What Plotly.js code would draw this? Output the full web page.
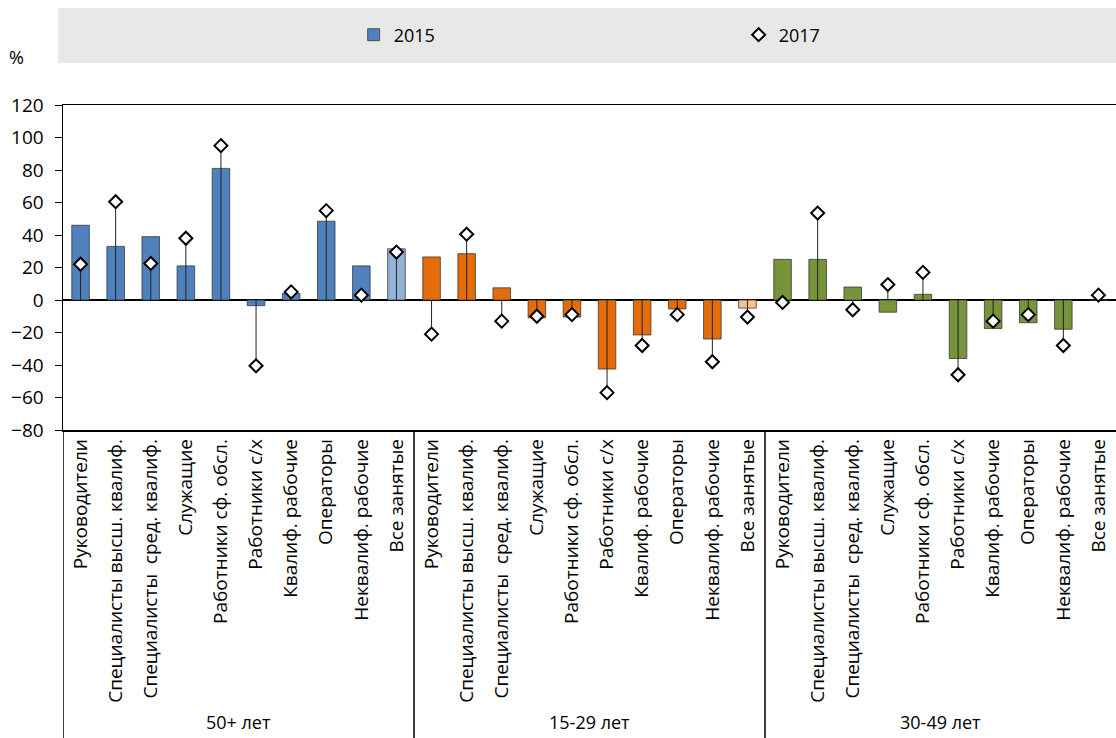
<!DOCTYPE html>
<html><head><meta charset="utf-8">
<script src="https://cdn.plot.ly/plotly-3.0.1.min.js"></script>
<style>body{margin:0;background:#fff;} #chart{width:1116px;height:738px;}</style>
</head><body><div id="chart"></div>
<script>
// ---- data ----
const groups = ['50+ лет', '15-29 лет', '30-49 лет'];
const occupations = ['Руководители', 'Специалисты высш. квалиф.', 'Специалисты  сред. квалиф.', 'Служащие',
  'Работники сф. обсл.', 'Работники с/х', 'Квалиф. рабочие', 'Операторы', 'Неквалиф. рабочие', 'Все занятые'];
const v2015_50 = [46, 33, 39, 21, 81, -3.5, 4, 48.5, 21, 31.5];
const v2017_50 = [22, 60.5, 22.5, 38, 95, -40.5, 5, 55, 3, 29.5];
const v2015_15 = [26.5, 28.5, 7.5, -11, -10.5, -42.5, -21.5, -5.5, -24, -5];
const v2017_15 = [-21, 40.5, -13, -10, -9, -57, -28, -9, -38, -10.5];
const v2015_30 = [25, 25, 8, -7.5, 3.5, -36, -17.5, -14, -18, 0];
const v2017_30 = [-1.5, 53.5, -6, 9.5, 17, -46, -13, -9, -28, 3];
const yTicks = [-80, -60, -40, -20, 0, 20, 40, 60, 80, 100, 120];

// ---- styles ----
const mainColors = ['#4f81bd', '#e46c0a', '#77933c'];
const totalColors = ['#95b3d7', '#fac090', '#9bbb59'];
const FONT = 'Open Sans, Liberation Sans, sans-serif';
const FS = 19;

const s2015 = [v2015_50, v2015_15, v2015_30];
const s2017 = [v2017_50, v2017_15, v2017_30];

const xs = [], y15 = [], y17 = [], colors = [], tickvals = [], ticktext = [];
const lx = [], ly = [];
groups.forEach((g, gi) => {
  occupations.forEach((o, oi) => {
    const x = gi * occupations.length + oi;
    xs.push(x); tickvals.push(x); ticktext.push(o);
    y15.push(s2015[gi][oi]); y17.push(s2017[gi][oi]);
    colors.push(oi === occupations.length - 1 ? totalColors[gi] : mainColors[gi]);
    lx.push(x, x, null); ly.push(0, s2017[gi][oi], null);
  });
});
const n = xs.length;

const traces = [
  {type: 'bar', x: xs, y: y15, name: '2015', width: 0.5,
   marker: {color: colors, line: {color: 'rgba(50,50,50,0.75)', width: 1}}},
  {type: 'scatter', mode: 'lines', x: lx, y: ly, showlegend: false, hoverinfo: 'skip',
   line: {color: '#222', width: 1}},
  {type: 'scatter', mode: 'markers', x: xs, y: y17, name: '2017',
   marker: {symbol: 'diamond', size: 10, color: '#ffffff', line: {color: '#000', width: 2}}}
];

const plotH = 738 - 105 - 308;
const plotW = 1116 - 63;
const shapes = [
  {type: 'rect', xref: 'paper', yref: 'paper', x0: -5 / plotW, x1: 1, y0: 1 + 42 / plotH, y1: 1 + 97 / plotH,
   fillcolor: '#e8e8e8', line: {width: 0}, layer: 'below'},
  {type: 'line', xref: 'x', yref: 'paper', x0: -0.5, x1: -0.5, y0: 0, y1: -308 / plotH, line: {color: '#000', width: 1.5}}
];
for (let gi = 1; gi < groups.length; gi++) {
  const xv = gi * occupations.length - 0.5;
  shapes.push({type: 'line', xref: 'x', yref: 'paper', x0: xv, x1: xv, y0: 0, y1: -308 / plotH,
    line: {color: '#000', width: 1.5}});
}
const annotations = groups.map((g, gi) => ({
  xref: 'x', yref: 'paper', x: gi * occupations.length + (occupations.length - 1) / 2, y: -(722 - 430) / plotH,
  yanchor: 'middle', text: g, showarrow: false, font: {family: FONT, size: FS - 1, color: '#000'}
}));
annotations.push({xref: 'paper', yref: 'paper', x: -47 / plotW, y: 1 + (105 - 57) / plotH, xanchor: 'center', yanchor: 'middle',
  text: '%', showarrow: false, font: {family: FONT, size: FS - 1, color: '#000'}});

const layout = {
  width: 1116, height: 738, autosize: false,
  margin: {l: 63, r: 0, t: 105, b: 308, autoexpand: false},
  paper_bgcolor: '#fff', plot_bgcolor: '#fff',
  font: {family: FONT, size: FS, color: '#000'},
  showlegend: true,
  legend: {orientation: 'h', x: 0.276, xanchor: 'left', y: 1 + 70 / plotH, yanchor: 'middle',
    bgcolor: 'rgba(0,0,0,0)', entrywidth: 340, font: {family: FONT, size: FS - 1, color: '#000'}},
  bargap: 0.5,
  xaxis: {range: [-0.5, n - 0.5], tickvals: tickvals, ticktext: ticktext, tickangle: -90,
    showline: true, mirror: true, linecolor: '#000', linewidth: 1.5, ticks: '', showgrid: false,
    zeroline: false, automargin: false, tickfont: {family: FONT, size: FS, color: '#000'}, fixedrange: true},
  yaxis: {range: [-80, 120], tickvals: yTicks, showline: true, linecolor: '#000', linewidth: 1.5,
    ticks: 'outside', ticklen: 7, tickcolor: '#000', showgrid: false, ticklabelstandoff: 7,
    zeroline: true, zerolinecolor: '#000', zerolinewidth: 1.5, automargin: false,
    tickfont: {family: FONT, size: FS, color: '#000'}, fixedrange: true},
  shapes: shapes,
  annotations: annotations
};
Plotly.newPlot('chart', traces, layout, {displayModeBar: false, staticPlot: true});
</script>
</body></html>
